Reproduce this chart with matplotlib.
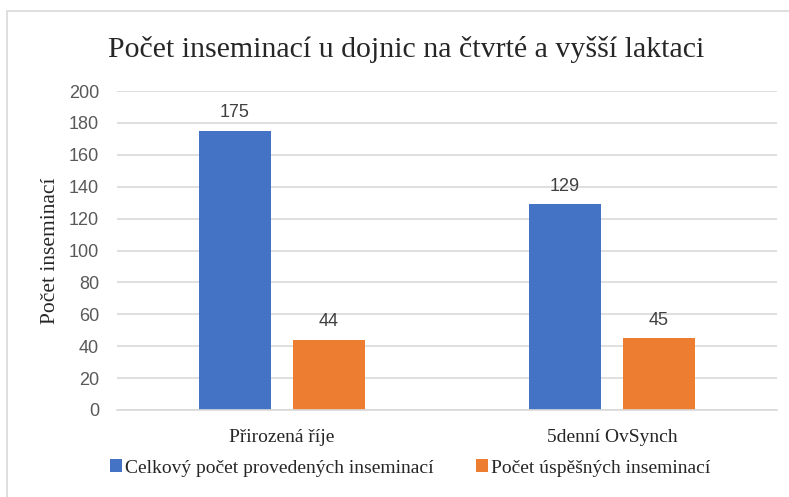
import matplotlib

matplotlib.use("Agg")
import matplotlib.pyplot as plt
from matplotlib.patches import Rectangle
import numpy as np

categories = ["Přirozená říje", "5denní OvSynch"]
series_names = ["Celkový počet provedených inseminací", "Počet úspěšných inseminací"]
total = [175, 129]
success = [44, 45]
yticks = [0, 20, 40, 60, 80, 100, 120, 140, 160, 180, 200]

BLUE = "#4472C4"
ORANGE = "#ED7D31"
GRID = "#D9D9D9"
SERIF = "Liberation Serif"
SANS = "Liberation Sans"

W, H = 789, 497
fig = plt.figure(figsize=(W / 100, H / 100), dpi=100)
fig.patch.set_facecolor("white")

# outer chart frame (runs off the image on right / bottom like the screenshot)
fig.patches.append(Rectangle((7 / W, -0.05), 1.2, (H - 11) / H + 0.05,
                             transform=fig.transFigure, fill=False,
                             edgecolor=GRID, lw=1.2))

ax = fig.add_axes([117 / W, (H - 410) / H, 660 / W, 319 / H])
x = np.arange(len(categories))
w = 0.221
off = w / 2 + 0.032
b1 = ax.bar(x - off, total, w, color=BLUE, zorder=2)
b2 = ax.bar(x + off, success, w, color=ORANGE, zorder=2)
for bars in (b1, b2):
    for r in bars:
        ax.annotate(f"{r.get_height():.0f}", (r.get_x() + r.get_width() / 2, r.get_height()),
                    xytext=(0, 7), textcoords="offset points", ha="center", va="bottom",
                    fontsize=13, family=SANS, color="#404040")

ax.set_xlim(-0.5, 1.5)
ax.set_ylim(0, 200)
ax.set_yticks(yticks)
ax.set_yticklabels([str(t) for t in yticks], family=SANS, fontsize=13, color="#595959")
ax.set_xticks(x, categories, family=SERIF, fontsize=14, color="#262626")
ax.tick_params(axis="both", length=0)
ax.tick_params(axis="y", pad=13)
ax.tick_params(axis="x", pad=14)
ax.grid(axis="y", color=GRID, lw=1.2, zorder=0)
for s in ("top", "right", "left"):
    ax.spines[s].set_visible(False)
ax.spines["bottom"].set_color(GRID)
ax.spines["bottom"].set_linewidth(1.2)
ax.set_axisbelow(True)

ax.set_ylabel("Počet inseminací", family=SERIF, fontsize=15.5, color="#262626", labelpad=6)
fig.text(406 / W, (H - 57) / H, "Počet inseminací u dojnic na čtvrté a vyšší laktaci",
         family=SERIF, fontsize=21.5, ha="center", va="baseline", color="#262626")

leg = fig.legend([b1, b2], series_names, loc="center", bbox_to_anchor=(410 / W, (H - 468) / H),
                 ncol=2, frameon=False, prop={"family": SERIF, "size": 14},
                 handlelength=0.6, handleheight=0.6, handletextpad=0.15, columnspacing=2.2)
for t in leg.get_texts():
    t.set_color("#262626")

fig.savefig("out.png", dpi=100)
